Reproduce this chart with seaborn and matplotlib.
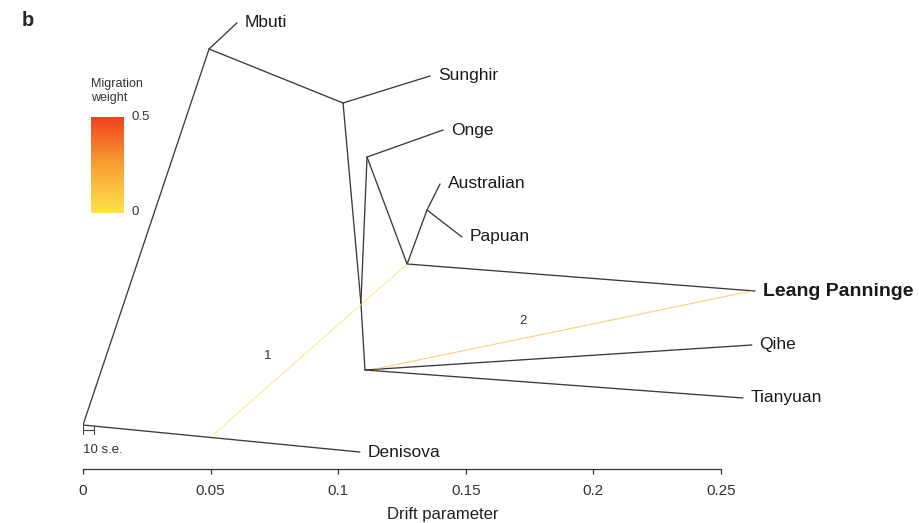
import numpy as np
import pandas as pd
import matplotlib
matplotlib.use("Agg")
import matplotlib.pyplot as plt
from matplotlib.colors import LinearSegmentedColormap
import seaborn as sns

# ---- data (drift parameter x, vertical tree position y) ----
node_names = ["root", "Denisova", "nM", "Mbuti", "nA", "Sunghir", "nE", "nB",
              "Onge", "nD", "nAP", "Australian", "Papuan", "Leang Panninge",
              "nC", "Qihe", "Tianyuan"]
node_x = [0.0, 0.1085, 0.0494, 0.0603, 0.1019, 0.1360, 0.1089, 0.1113,
          0.1411, 0.1270, 0.1348, 0.1399, 0.1485, 0.2633,
          0.1105, 0.2621, 0.2586]
node_y = [0.0938, 0.0362, 0.8955, 0.9510, 0.7804, 0.8380, 0.3540, 0.6652,
          0.7228, 0.4371, 0.5522, 0.6077, 0.4947, 0.3795,
          0.2111, 0.2644, 0.1514]
edge_parent = ["root", "root", "nM", "nM", "nA", "nA", "nE", "nE", "nB", "nB",
               "nD", "nAP", "nAP", "nD", "nC", "nC"]
edge_child = ["Denisova", "nM", "Mbuti", "nA", "Sunghir", "nE", "nB", "nC",
              "Onge", "nD", "nAP", "Australian", "Papuan", "Leang Panninge",
              "Qihe", "Tianyuan"]
leaves = ["Denisova", "Mbuti", "Sunghir", "Onge", "Australian", "Papuan",
          "Leang Panninge", "Qihe", "Tianyuan"]

mig_labels = ["1", "2"]
mig_src_x = [0.0509, 0.1144]
mig_src_y = [0.0725, 0.2132]
mig_dst_x = [0.1270, 0.2621]
mig_dst_y = [0.4371, 0.3795]
mig_weight = [0.005, 0.16]
mig_label_x = [0.0725, 0.1724]
mig_label_y = [0.241, 0.315]

xticks = [0, 0.05, 0.1, 0.15, 0.2, 0.25]
xtick_labels = ["0", "0.05", "0.1", "0.15", "0.2", "0.25"]

# ---- style ----
sns.set_theme(style="white")
plt.rcParams["font.family"] = ["Liberation Sans", "DejaVu Sans"]

W, H = 920, 523
fig = plt.figure(figsize=(W / 100, H / 100), dpi=100)
ax = fig.add_axes([83 / W, 54 / H, 720 / W, 469 / H])

pos = {n: (x, y) for n, x, y in zip(node_names, node_x, node_y)}
rows = []
for i, (p, c) in enumerate(zip(edge_parent, edge_child)):
    rows.append({"edge": i, "x": pos[p][0], "y": pos[p][1]})
    rows.append({"edge": i, "x": pos[c][0], "y": pos[c][1]})
edges_df = pd.DataFrame(rows)

sns.lineplot(data=edges_df, x="x", y="y", units="edge", estimator=None,
             sort=False, color="#3a3a3a", linewidth=0.95, ax=ax)

cmap = LinearSegmentedColormap.from_list("mig", ["#fde24a", "#f7a033", "#f0421f"])
mrows = []
for i in range(len(mig_labels)):
    mrows.append({"mig": mig_labels[i], "x": mig_src_x[i], "y": mig_src_y[i]})
    mrows.append({"mig": mig_labels[i], "x": mig_dst_x[i], "y": mig_dst_y[i]})
mig_df = pd.DataFrame(mrows)
palette = {lab: cmap(w / 0.5) for lab, w in zip(mig_labels, mig_weight)}
sns.lineplot(data=mig_df, x="x", y="y", hue="mig", units="mig", estimator=None,
             sort=False, palette=palette, linewidth=0.8, alpha=0.65,
             legend=False, ax=ax)

for lab, lx, ly in zip(mig_labels, mig_label_x, mig_label_y):
    ax.text(lx, ly, lab, fontsize=9.5, ha="center", va="center", color="#333333")

for leaf in leaves:
    x, y = pos[leaf]
    bold = leaf == "Leang Panninge"
    ax.annotate(leaf, (x, y), xytext=(5.5, 0), textcoords="offset points",
                ha="left", va="center", fontsize=14 if bold else 12.5,
                fontweight="bold" if bold else "normal",
                color="#1a1a1a", annotation_clip=False)

# scale bar: 10 s.e.
se_x0, se_x1, se_y = 0.0, 0.0043, 0.0832
ax.plot([se_x0, se_x1], [se_y, se_y], color="#444444", lw=0.8)
ax.plot([se_x0, se_x0], [se_y - 0.008, se_y + 0.008], color="#444444", lw=0.8)
ax.plot([se_x1, se_x1], [se_y - 0.008, se_y + 0.008], color="#444444", lw=0.8)
ax.text(0.0, 0.040, "10 s.e.", fontsize=9.5, ha="left", va="center", color="#333333")

ax.set_xlim(0, 720 / 2552)
ax.set_ylim(0, 1)
for s in ["top", "right", "left"]:
    ax.spines[s].set_visible(False)
ax.spines["bottom"].set_bounds(0, 0.25)
ax.spines["bottom"].set_color("#333333")
ax.spines["bottom"].set_linewidth(0.9)
ax.set_xticks(xticks)
ax.set_xticklabels(xtick_labels)
ax.set_yticks([])
ax.tick_params(axis="x", direction="out", length=3.5, width=0.9, pad=7,
               labelsize=11, colors="#333333", bottom=True)
ax.set_xlabel("Drift parameter", fontsize=12, color="#222222", labelpad=7)
ax.set_ylabel("")
ax.patch.set_alpha(0)

# colour key
cax = fig.add_axes([91 / W, (H - 213) / H, 33 / W, 96 / H])
grad = np.linspace(0.5, 0, 100)[:, None]
sns.heatmap(grad, cmap=cmap, vmin=0, vmax=0.5, cbar=False, ax=cax,
            xticklabels=False, yticklabels=False)
cax.set_xlabel("")
cax.set_ylabel("")
fig.text(91 / W, 1 - 84 / H, "Migration", fontsize=9, ha="left", va="center", color="#333333")
fig.text(91 / W, 1 - 98 / H, "weight", fontsize=9, ha="left", va="center", color="#333333")
fig.text(131 / W, 1 - 117 / H, "0.5", fontsize=9.5, ha="left", va="center", color="#333333")
fig.text(131 / W, 1 - 212 / H, "0", fontsize=9.5, ha="left", va="center", color="#333333")

fig.text(22 / W, 1 - 20 / H, "b", fontsize=14.5, fontweight="bold", ha="left", va="center")

fig.savefig("out.png", dpi=100, facecolor="white")
